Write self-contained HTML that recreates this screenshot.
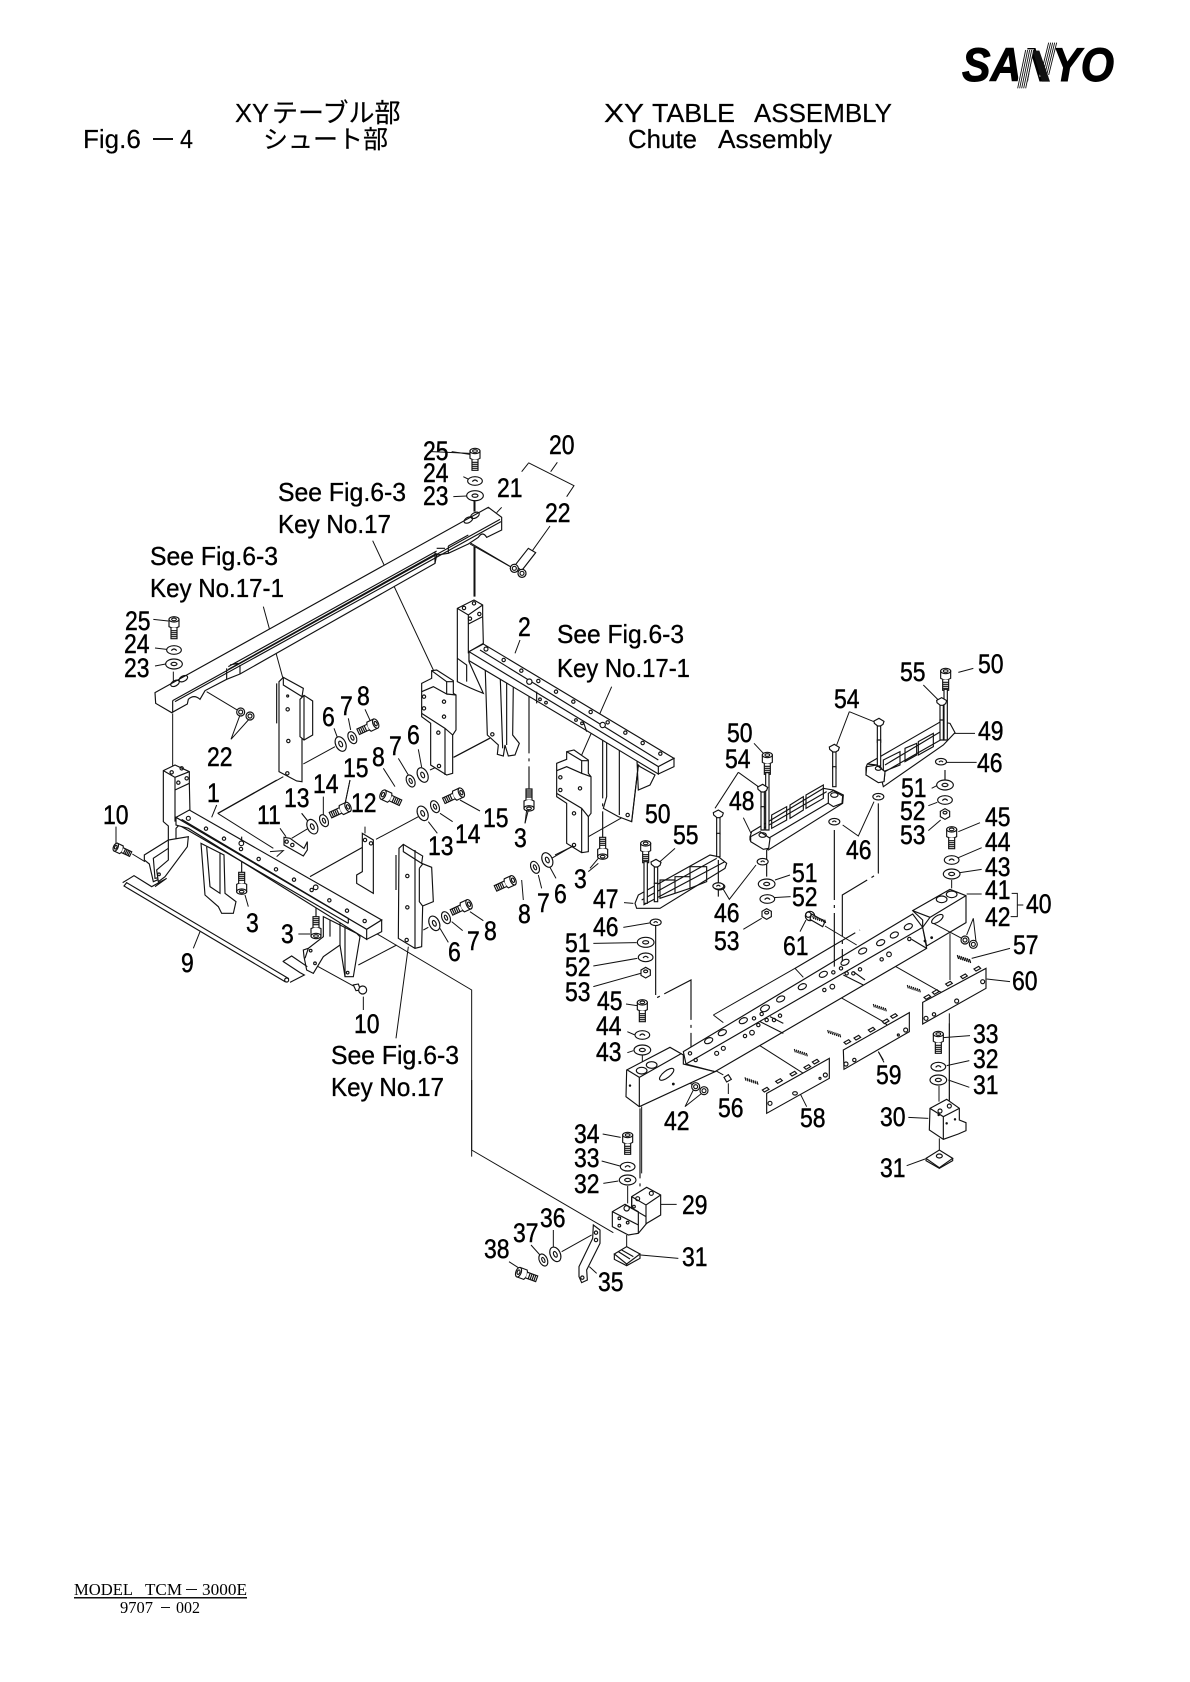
<!DOCTYPE html>
<html><head><meta charset="utf-8"><title>XY Table Assembly</title>
<style>
html,body{margin:0;padding:0;background:#fff}
svg{display:block}
path,line,polyline,polygon,ellipse,circle{vector-effect:non-scaling-stroke;stroke:#111;stroke-width:1.15;fill:none}
.w{fill:#fff}
.l{stroke-width:1}
.d{stroke-dasharray:70 5 3 5}
.k{fill:#111}
text{fill:#000}
.n{font:27px "Liberation Sans",sans-serif;stroke:#000;stroke-width:.45;transform-box:fill-box;transform-origin:left center;transform:scaleX(.85)}
.k1{font:26px "Liberation Sans",sans-serif;stroke:#000;stroke-width:.35}
.t{font:26px "Liberation Sans","Noto Sans CJK JP",sans-serif;stroke:#000;stroke-width:.2}
.m{font:17px "Liberation Serif",serif}
</style></head><body>
<svg xmlns="http://www.w3.org/2000/svg" width="1190" height="1682" viewBox="0 0 1190 1682">
<defs>
<g id="bv"><path class="w" d="M-15 -10V12Q0 22 15 12V-10Z"/><ellipse class="w" cy="-10" rx="15" ry="8"/><ellipse cy="-10" rx="7" ry="4"/><path class="w" d="M-9 16V48H9V16"/><path d="M-9 24H9M-9 30H9M-9 36H9M-9 42H9"/></g>
<g id="w"><ellipse class="w" rx="25" ry="15"/><ellipse rx="9" ry="5"/></g>
<g id="s"><ellipse class="w" rx="22" ry="13"/><path d="M-8 2Q0 -8 8 2"/></g>
<g id="t"><g transform="rotate(-25)"><ellipse class="w" rx="15" ry="23"/><ellipse rx="5" ry="9"/></g></g>
<g id="u"><g transform="rotate(-25)"><ellipse class="w" rx="12" ry="19"/><ellipse rx="4" ry="8"/></g></g>
<g id="c"><path class="w" d="M-5 10V60H5V10"/><path class="w" d="M-15 -4L0 -12L15 -3L12 6L4 11H-4L-14 3Z"/></g>
<g id="h"><path class="w" d="M-14 -8L0 -16L14 -8V8L0 16L-14 8Z"/><ellipse cy="-4" rx="6" ry="4"/></g>
<g id="sp"><path d="M0 -5L3 5M6 -3L9 7M12 -1L15 9M18 1L21 11M24 3L27 13M30 5L33 15M36 7L39 17"/></g>
<g id="nu"><circle class="w" r="12"/><circle r="6"/></g>
<g id="pin"><path class="w" d="M-8 2L6 -6L12 0L-2 8Z"/></g>
</defs>

<!-- SANYO logo -->
<text x="962" y="81" style="font:italic 700 47px 'Liberation Sans',sans-serif;stroke:#000;stroke-width:1" textLength="152" lengthAdjust="spacingAndGlyphs">SANYO</text>
<g transform="translate(950,30) scale(.33333)">
<path style="fill:#fff;stroke:none" d="M222 58H252L228 178H198ZM292 36H322L296 140H268Z"/>
<path style="fill:#111;stroke:none" d="M248 62H268L300 155H276Z"/>
<path style="stroke-width:.9" d="M227 60L203 175M233 60L209 175M239 60L215 175M245 60L221 175M251 60L227 175M296 38L272 135M302 38L278 135M308 38L284 135M314 38L290 135M320 38L296 135"/>
</g>

<!-- Upper-left rail / blocks: zoom coordinates origin (100,420) -->
<g transform="translate(100,420) scale(.33333)">
<path class="l" d="M1055 95L1110 103M1090 170L1110 180M1060 230L1100 228M1125 240V275M1125 380V530M1110 372L1240 445M160 598L205 603M165 684L200 688M165 738L197 732M220 755V790M218 880V1040M320 815L415 872M393 958L422 880M393 958L445 900M1205 262L1190 278M490 560L548 772M818 362L1000 750M610 1032L705 980M355 1180L550 1070M702 925L712 952M745 895L752 930M795 868L812 905M990 1050L1012 1040M1062 1012L1170 955M955 988L965 1042M895 1015L925 1065M850 1045L885 1100M605 1180L625 1205M670 1130V1170M750 1080L735 1152"/>
<path class="w" d="M165 818L1165 262L1205 292V330L1160 352Q1148 332 1135 352L1105 372L1045 400L1010 405L1005 430L420 762L380 778L315 812L300 838Q282 822 265 838L262 852L215 878L167 850Z"/>
<path d="M218 842L1200 298M225 845L1203 305M218 842V878M385 740L1010 393M385 748L1010 400M380 778V745M420 762V735M1005 430V395M1045 400V378M390 735L415 730M1010 385L1035 385M1045 378L1105 345"/>
<ellipse cx="1105" cy="300" rx="14" ry="8" transform="rotate(-28 1105 300)"/><ellipse cx="1125" cy="286" rx="14" ry="8" transform="rotate(-28 1125 286)"/><ellipse cx="225" cy="790" rx="14" ry="8" transform="rotate(-28 225 790)"/><ellipse cx="250" cy="776" rx="14" ry="8" transform="rotate(-28 250 776)"/>
<use href="#bv" x="1125" y="103"/><use href="#s" x="1125" y="183"/><use href="#w" x="1125" y="227"/>
<use href="#bv" x="222" y="608"/><use href="#s" x="222" y="690"/><use href="#w" x="222" y="732"/>
<use href="#nu" x="1243" y="445"/><use href="#nu" x="1266" y="460"/><use href="#nu" x="422" y="876"/><use href="#nu" x="450" y="888"/>
<!-- 17-1 block -->
<path class="w" d="M537 785L550 772L610 805L606 830V1085L590 1083L537 1055Z"/>
<path d="M550 772V795L606 830M530 790V910" />
<path class="w" d="M600 838L612 826L638 843V945L612 960L600 950Z"/><path d="M612 826V960"/>
<circle cx="563" cy="868" r="5"/><circle cx="565" cy="963" r="5"/><circle cx="562" cy="1060" r="5"/><circle cx="563" cy="828" r="3"/>
<!-- 17 block -->
<path class="w" d="M965 790L995 775V752L1010 750L1060 782V820L1068 825V930L1058 945V1060L1040 1065L992 1035V910L965 890Z"/>
<path d="M995 752L1040 785H1060M1040 785V822L1000 800L965 815M1040 822L1068 825M965 880L1035 925L1058 945M1035 925V1065"/>
<circle cx="972" cy="830" r="5"/><circle cx="1032" cy="845" r="5"/><circle cx="972" cy="865" r="5"/><circle cx="1032" cy="890" r="5"/><circle cx="1015" cy="938" r="5"/><circle cx="1017" cy="1038" r="5"/>
<use href="#t" x="722" y="972"/><use href="#u" x="757" y="953"/><use href="#bv" transform="translate(818 915) rotate(65)"/>
<use href="#t" x="968" y="1065"/><use href="#u" x="932" y="1083"/><use href="#bv" transform="translate(858 1128) rotate(-65)"/>
</g>

<!-- Bracket 2, zoom origin (450,420) -->
<g transform="translate(450,420) scale(.33333)">
<path class="l" d="M-55 95L60 100M235 130L215 155M322 127L302 155M235 128L372 197L350 230M300 318L245 395M72 240V275M72 380V530M60 368L190 445M210 660L195 700M485 800L395 1005M415 1250L530 1185M118 955L10 1012M305 1315L365 1280" />
<path class="d" d="M237 790V1105M458 925V1255"/>
<path class="w" d="M22 565L72 540L98 555V590L100 670L57 695V725L100 820Q60 805 22 785Z"/>
<path d="M22 565L55 585L98 555M55 585V612L98 590M55 612V700"/><circle cx="42" cy="564" r="5"/><circle cx="72" cy="550" r="5"/><circle cx="60" cy="596" r="5"/><circle cx="88" cy="582" r="5"/>
<path d="M22 715L50 735V785"/>
<path class="w" d="M105 725L112 945L145 975L142 1003L160 1008L165 975L175 1008L195 1005L208 970L188 945L190 790L170 770Z"/><path d="M150 750L158 985M170 770V975"/><circle cx="127" cy="943" r="5"/>
<path class="w" d="M470 905V1130L460 1165L505 1190L545 1205L565 1035L570 1040L615 1065L600 1095L565 1110L560 1000L505 960Z"/><path d="M508 965V1185M565 1035L545 1205"/><circle cx="535" cy="990" r="5"/><circle cx="533" cy="1185" r="5"/>
<path class="w" d="M57 695L100 672L672 1015L625 1040L57 700Z"/>
<path class="w" d="M57 695V722L415 935L625 1062V1040ZM625 1040V1062L672 1040V1015Z"/>
<path d="M90 690L625 1020M260 815V850M400 905L410 935"/>
<circle cx="108" cy="687" r="6"/><circle cx="161" cy="720" r="5"/><circle cx="214" cy="752" r="5"/><circle cx="265" cy="783" r="5"/><circle cx="318" cy="815" r="5"/><circle cx="370" cy="845" r="5"/><circle cx="422" cy="876" r="5"/><circle cx="473" cy="907" r="5"/><circle cx="526" cy="938" r="5"/><circle cx="578" cy="969" r="5"/><circle cx="631" cy="1001" r="5"/><circle cx="238" cy="785" r="8" class="w"/><circle cx="458" cy="915" r="8" class="w"/><circle cx="270" cy="838" r="4"/><circle cx="288" cy="848" r="4"/><circle cx="378" cy="900" r="4"/><circle cx="396" cy="910" r="4"/>
<!-- 17-1 right block -->
<path class="w" d="M320 1030L350 1018V995L372 990L415 1020V1060L423 1070V1180L415 1190V1295L395 1298L350 1270V1150L320 1130Z"/>
<path d="M350 995L395 1022H415M395 1022V1060L350 1040L320 1052M395 1060L423 1070M320 1120L395 1165L415 1190M395 1165V1298"/>
<circle cx="331" cy="1072" r="5"/><circle cx="390" cy="1105" r="5"/><circle cx="331" cy="1110" r="5"/><circle cx="372" cy="1180" r="5"/><circle cx="372" cy="1275" r="5"/>
<use href="#bv" transform="translate(237 1155) rotate(180)"/><use href="#bv" transform="translate(458 1300) rotate(180)"/>
<path class="l" d="M235 1170L225 1210M445 1315L420 1345"/>
<!-- 22 sleeve -->
<path class="w" d="M235 385L257 398L215 452L195 436Z"/>
<use href="#nu" x="193" y="445"/><use href="#nu" x="216" y="460"/>
</g>

<!-- Lower-left assembly, zoom origin (100,780) -->
<g transform="translate(100,780) scale(.33333)">
<path class="l" d="M48 140V190M97 222L135 245M640 552L760 618M790 650V690M435 345L445 380M595 462L630 462M300 455L280 505M350 75L335 112M820 455L1115 630V1130M353 100L530 0M353 100L520 205M510 215L550 212L530 230M575 175L625 145M540 145L558 170M605 100L625 125M670 90V112M750 0L735 72M795 140V160M828 178L955 110M985 125L1012 160M1020 100L1058 125M1080 60L1140 93M775 555L890 495M925 500L888 775M970 450L985 442M1020 445L1045 487M1055 425L1088 452M1110 395L1150 422M1265 300L1270 360M1315 285L1325 325M1350 262L1368 295M1365 225L1420 198M1280 90L1275 130M1465 275L1495 250"/>
<path class="d" d="M425 170V285M648 325V425M630 290L800 195M888 225V330"/>
<!-- column -->
<path class="w" d="M190 -28L225 -45L268 -25V10L270 100L228 145V175Q228 195 205 205L160 235L165 295L195 290L160 305L148 252L133 240V225L205 180V138L190 125Z"/>
<path d="M190 -28L225 -8L268 -25M225 -8V30L268 10M225 30V125"/>
<circle cx="215" cy="-23" r="5"/><circle cx="245" cy="-35" r="5"/><circle cx="235" cy="8" r="5"/><circle cx="260" cy="-5" r="5"/>
<path class="w" d="M265 170L262 200L195 290L175 305L170 270L205 240V180Z"/>
<circle cx="177" cy="283" r="4"/>
<!-- legs -->
<path class="w" d="M303 190L315 345L355 380L365 400H400L408 365L375 340L372 225Z"/><path d="M320 200L330 320L360 340V220"/>
<path class="w" d="M670 410V470L625 505L610 510L612 530L620 570L640 580L670 530L720 495L735 590H760L780 470L770 460Z"/>
<path d="M625 505L615 535M720 420V495M735 440V590M690 420V470"/><circle cx="632" cy="512" r="4"/><circle cx="645" cy="550" r="4"/><circle cx="743" cy="578" r="4"/>
<!-- rail 1 -->
<path class="w" d="M228 112L268 90L845 420L800 448Z"/>
<path class="w" d="M228 112V135L265 145L800 478V448ZM800 448V478L845 455V420Z"/>
<path d="M245 118L745 415M245 140L745 430M745 415V430"/>
<g><circle cx="265" cy="115" r="6"/><circle cx="318" cy="146" r="5"/><circle cx="372" cy="176" r="5"/><circle cx="423" cy="207" r="5"/><circle cx="476" cy="237" r="5"/><circle cx="528" cy="268" r="5"/><circle cx="582" cy="299" r="5"/><circle cx="635" cy="330" r="5"/><circle cx="688" cy="361" r="5"/><circle cx="741" cy="392" r="5"/><circle cx="794" cy="423" r="5"/><circle cx="424" cy="190" r="7" class="w"/><circle cx="647" cy="322" r="7" class="w"/></g>
<use href="#bv" transform="translate(425 325) rotate(180)"/><use href="#bv" transform="translate(648 458) rotate(180)"/>
<!-- strip 9 -->
<path d="M68 308L102 287L155 320L200 295L165 320M548 545L575 528L622 560M550 545L600 578L613 585L570 607"/>
<path class="w" d="M72 318L80 308L565 595L555 605Z"/><circle class="w" cx="560" cy="600" r="6"/>
<use href="#bv" transform="translate(55 205) rotate(-65) scale(.85)"/>
<path class="w" d="M760 615L775 612L782 630L768 632Z"/><circle class="w" cx="788" cy="630" r="12"/>
<!-- small parts -->
<path class="w" d="M552 172L570 175L612 205L622 185V210L610 228L552 195Z"/><circle cx="560" cy="185" r="5"/><circle cx="577" cy="195" r="5"/>
<use href="#t" x="637" y="140"/><use href="#u" x="672" y="122"/><use href="#bv" transform="translate(735 85) rotate(65)"/>
<path class="w" d="M787 160L820 180V340L770 310V285L787 275Z"/><circle cx="795" cy="180" r="5"/><circle cx="813" cy="190" r="5"/>
<path class="w" d="M897 205L910 193L968 228L965 250L995 262L1000 365L968 378L965 500L945 505L895 475Z"/>
<path d="M910 193V215L965 250M958 265L968 252M958 265V365L968 378M945 210V505"/><circle cx="922" cy="288" r="5"/><circle cx="922" cy="382" r="5"/><circle cx="920" cy="480" r="5"/>
<use href="#t" x="968" y="100"/><use href="#u" x="1005" y="80"/><use href="#bv" transform="translate(1075 42) rotate(65)"/>
<use href="#t" x="1003" y="430"/><use href="#u" x="1038" y="413"/><use href="#bv" transform="translate(1098 377) rotate(65)"/>
<use href="#bv" transform="translate(1230 305) rotate(65)"/><use href="#u" x="1305" y="262"/><use href="#t" x="1342" y="240"/>
</g>

<!-- Long leader + lower group, zoom origin (450,1080) -->
<g transform="translate(450,1080) scale(.33333)">
<path class="l" d="M65 0V210L490 458M458 162L512 172M455 243L510 258M460 310L505 303M533 318V370M632 373H680M572 525L685 535M530 465V500M310 450V500M243 495L270 525M177 545L208 565M335 515L425 465M418 560L440 580"/>
<path class="d" d="M570 85V340"/>
<use href="#bv" x="533" y="175"/><use href="#s" x="533" y="260"/><use href="#w" x="533" y="300"/>
<path class="w" d="M545 350L590 322L632 345V405L590 430L565 460L535 465L487 440V395L525 373L545 385Z"/>
<path d="M545 350L588 375L632 345M588 375V432M545 350V385L588 410M487 395L565 435V460M525 373L565 395V435"/>
<circle cx="563" cy="356" r="6"/><circle cx="604" cy="340" r="6"/><circle cx="530" cy="385" r="8"/><circle cx="552" cy="380" r="4"/><circle cx="508" cy="415" r="4"/><circle cx="508" cy="437" r="4"/><circle cx="533" cy="428" r="4"/>
<path class="w" d="M493 522L530 500L570 522L530 552Z"/><path d="M493 522V538L530 557L570 535V522M530 552V557M505 515L540 537M515 510L550 530"/>
<path class="w" d="M430 435L450 450V490L410 570L412 600L395 608L387 590V560L428 475Z"/><circle cx="438" cy="458" r="5"/><circle cx="438" cy="480" r="5"/><circle cx="397" cy="593" r="5"/>
<use href="#t" x="316" y="523"/><use href="#u" x="280" y="540"/><use href="#bv" transform="translate(215 580) rotate(-70)"/>
</g>

<!-- Right main beam, zoom origin (550,840) -->
<g transform="translate(550,840) scale(.33333)">
<path class="l" d="M222 188L250 190M220 262L305 248M130 310L260 308M130 378L262 355M130 440L272 400M228 492L262 497M232 575L255 585M232 638L250 632M277 645V670M440 660L520 705M535 730V762M405 800L430 750M405 800L455 760M355 695L430 735M750 760L770 800M985 635L1000 660M600 598L760 700M850 460L1000 545M1020 370L1170 455M1200 280V420M1198 550V780M275 800V1000M490 525L735 385M490 525L520 548M735 385L760 412"/>
<path class="d" d="M317 255V475L423 420V630M760 700L808 715M1000 545L1045 585M1170 455L1220 485M735 385L930 270"/>
<!-- beam -->
<path class="w" d="M400 635L1088 222L1118 262L1130 325L495 695L408 672Z"/>
<path d="M408 672L1118 262M1085 298L1130 325M630 545L700 580M660 530L700 550M880 405L940 435M910 395L945 420"/>
<g><ellipse cx="476" cy="602" rx="13" ry="8" transform="rotate(-25 476 602)"/><ellipse cx="517" cy="578" rx="13" ry="8" transform="rotate(-25 517 578)"/><ellipse cx="580" cy="542" rx="13" ry="8" transform="rotate(-25 580 542)"/><ellipse cx="645" cy="505" rx="14" ry="9" transform="rotate(-25 645 505)"/><ellipse cx="692" cy="477" rx="13" ry="8" transform="rotate(-25 692 477)"/><ellipse cx="757" cy="440" rx="13" ry="8" transform="rotate(-25 757 440)"/><ellipse cx="820" cy="403" rx="13" ry="8" transform="rotate(-25 820 403)"/><ellipse cx="885" cy="367" rx="13" ry="8" transform="rotate(-25 885 367)"/><ellipse cx="938" cy="333" rx="13" ry="8" transform="rotate(-25 938 333)"/><ellipse cx="992" cy="308" rx="13" ry="8" transform="rotate(-25 992 308)"/><ellipse cx="1033" cy="285" rx="13" ry="8" transform="rotate(-25 1033 285)"/><ellipse cx="1075" cy="260" rx="13" ry="8" transform="rotate(-25 1075 260)"/></g>
<circle cx="420" cy="640" r="5"/><circle cx="437" cy="660" r="5"/><circle cx="500" cy="640" r="6"/><circle cx="520" cy="625" r="6"/><circle cx="585" cy="588" r="5"/><circle cx="606" cy="578" r="7"/><circle cx="612" cy="535" r="5"/><circle cx="635" cy="522" r="5"/><circle cx="625" cy="555" r="5"/><circle cx="650" cy="540" r="5"/><circle cx="672" cy="540" r="5"/><circle cx="690" cy="527" r="5"/><circle cx="823" cy="450" r="5"/><circle cx="847" cy="440" r="7"/><circle cx="850" cy="397" r="5"/><circle cx="873" cy="385" r="5"/><circle cx="890" cy="400" r="5"/><circle cx="910" cy="400" r="5"/><circle cx="930" cy="388" r="5"/><circle cx="995" cy="358" r="5"/><circle cx="1017" cy="343" r="7"/><circle cx="1078" cy="297" r="5"/>
<!-- right end block -->
<path class="w" d="M1088 212L1200 148L1248 167V248L1130 318L1118 262V240Z"/>
<path d="M1088 212L1140 232L1248 167M1140 232L1118 262"/><ellipse cx="1175" cy="178" rx="16" ry="10"/><ellipse cx="1205" cy="163" rx="16" ry="10"/><ellipse cx="1162" cy="237" rx="20" ry="9" transform="rotate(-35 1162 237)"/>
<circle cx="1125" cy="303" r="2.5" class="k"/><circle cx="1145" cy="293" r="2.5" class="k"/>
<!-- left end block -->
<path class="w" d="M230 690L360 622L400 645V672L495 695L268 800L228 770Z"/>
<path d="M232 690L268 712V800M268 712L395 640"/><ellipse cx="275" cy="692" rx="16" ry="10"/><ellipse cx="305" cy="675" rx="16" ry="10"/><ellipse cx="350" cy="703" rx="26" ry="10" transform="rotate(-38 350 703)"/>
<circle cx="370" cy="732" r="2.5" class="k"/><circle cx="240" cy="737" r="2" class="k"/>
<!-- 47 card -->
<path class="w" d="M255 190L265 165L480 45L505 50L530 70L525 85L330 205L320 205L260 205Z"/>
<path d="M275 180L500 55M280 195L525 65M330 120H375V160L330 175ZM375 110H420V145L375 160ZM420 80H470V125L420 145Z"/>
<use href="#bv" x="287" y="20"/><path class="w" d="M282 65H292V190H282Z"/>
<use href="#c" x="318" y="70"/><path class="w" d="M313 130H323V185H313Z"/>
<path class="l" d="M375 25L330 65"/>
<use href="#s" transform="translate(317 247) scale(.75)"/><use href="#w" x="287" y="307"/><use href="#s" x="287" y="352"/><use href="#h" x="287" y="398"/>
<use href="#s" transform="translate(508 140) scale(.75)"/>
<use href="#bv" x="277" y="497"/><use href="#s" x="277" y="585"/><use href="#w" x="277" y="630"/>
<use href="#nu" x="437" y="740"/><use href="#nu" x="462" y="752"/>
<path class="w" d="M522 712L535 704L544 718L530 726Z"/>
<!-- plates -->
<use href="#sp" x="585" y="717"/><use href="#sp" x="733" y="632"/>
<use href="#pin" x="645" y="748"/><use href="#pin" x="685" y="722"/><use href="#pin" x="728" y="700"/><use href="#pin" x="770" y="680"/><use href="#pin" x="795" y="664"/>
<path class="w" d="M650 760L838 655V715L650 820Z"/><circle cx="660" cy="790" r="6"/><ellipse cx="735" cy="760" rx="7" ry="5"/><circle cx="810" cy="715" r="3"/><circle cx="826" cy="705" r="6"/>
<use href="#sp" x="833" y="575"/><use href="#sp" x="970" y="497"/>
<use href="#pin" x="890" y="605"/><use href="#pin" x="920" y="592"/><use href="#pin" x="963" y="568"/><use href="#pin" x="1005" y="543"/><use href="#pin" x="1030" y="527"/>
<path class="w" d="M880 630L1078 518V575L882 688Z"/><circle cx="888" cy="672" r="6"/><circle cx="913" cy="660" r="5"/><circle cx="1045" cy="585" r="3"/><circle cx="1067" cy="570" r="6"/>
<use href="#sp" x="1072" y="440"/><use href="#sp" x="1222" y="350"/>
<use href="#pin" x="1130" y="470"/><use href="#pin" x="1155" y="455"/><use href="#pin" x="1195" y="430"/><use href="#pin" x="1240" y="408"/><use href="#pin" x="1280" y="385"/>
<path class="w" d="M1118 487L1308 385V445L1118 552Z"/><circle cx="1128" cy="535" r="6"/><circle cx="1152" cy="523" r="5"/><circle cx="1220" cy="483" r="6"/><circle cx="1298" cy="425" r="6"/>
</g>

<!-- Upper right cards, zoom origin (680,640) -->
<g transform="translate(680,640) scale(.33333)">
<path class="l" d="M835 97L880 85M820 280L885 280M890 367L800 367M755 445L770 437M745 497L772 487M745 572L782 540M900 548L835 575M905 623L835 653M905 688L840 698M815 720V745M860 762L905 762M995 760H1012V830H992M1012 795H1030M222 310L250 340M175 397L105 505M175 397L235 440M190 533L213 580M508 215L470 315M508 215L582 245M730 135L775 180M285 720L330 705M280 773L332 770M190 868L245 835M360 875L378 840M435 858L530 915M488 555L535 588L582 485M130 748L148 778L228 675M880 835L860 885M880 835L888 905M760 850L845 895M875 955L990 925M920 1017L990 1025"/>
<path class="d" d="M463 570V980M595 490V700L487 765V965M260 630V710M795 390V420M115 770V660"/>
<!-- 49 -->
<path class="w" d="M558 382L562 372L782 245L810 250L825 278L790 315L610 440L605 420L558 405Z"/>
<path d="M590 375L615 395L612 425M615 395L790 295M562 372L590 375M615 375L790 270M610 360L660 335V375L610 395ZM675 325L710 310V345L675 365ZM715 305L760 280V320L715 345Z"/>
<path class="w" d="M560 380L590 375L615 395L612 425L595 428L558 405Z"/><ellipse cx="595" cy="385" rx="9" ry="6"/>
<use href="#bv" x="797" y="103"/><path class="w" d="M792 148H802V300H792Z"/>
<use href="#c" x="785" y="185"/><path class="w" d="M780 240H790V300H780Z"/>
<use href="#c" x="597" y="247"/><path class="w" d="M592 300H602V378H592Z"/>
<use href="#c" x="463" y="325"/><path class="w" d="M458 380H468V440H458Z"/>
<use href="#s" transform="translate(783 365) scale(.75)"/><use href="#w" x="795" y="435"/><use href="#s" x="795" y="480"/><use href="#h" x="795" y="522"/>
<use href="#s" transform="translate(595 470) scale(.75)"/><use href="#s" transform="translate(463 545) scale(.75)"/>
<!-- 48 -->
<path class="w" d="M210 590L215 575L430 445L460 450L490 465L488 490L265 630L210 600Z"/>
<path d="M240 575L265 595M265 595L460 480M250 565L440 455M275 525L320 500V540L275 565ZM330 495L370 470V510L330 535ZM378 465L430 435V475L378 505Z"/>
<path class="w" d="M445 460L460 452L488 468L486 490L460 500L445 490Z"/><ellipse cx="463" cy="465" rx="11" ry="7"/>
<path class="w" d="M212 590L240 575L270 595L266 625L250 628L212 605Z"/><ellipse cx="248" cy="585" rx="11" ry="7"/>
<use href="#bv" x="262" y="355"/><path class="w" d="M257 398H267V570H257Z"/>
<use href="#c" x="248" y="445"/><path class="w" d="M243 500H253V570H243Z"/>
<use href="#c" x="115" y="522"/><path class="w" d="M110 580H120V650H110Z"/>
<use href="#s" transform="translate(248 665) scale(.75)"/><use href="#s" transform="translate(115 738) scale(.75)"/><use href="#w" x="260" y="732"/><use href="#s" x="262" y="777"/><use href="#h" x="260" y="822"/>
<circle class="w" cx="390" cy="828" r="14"/><circle cx="385" cy="824" r="8"/><path class="w" d="M395 822L435 845L428 860L390 838Z"/><use href="#sp" x="398" y="832"/>
<use href="#bv" x="815" y="578"/><use href="#s" x="815" y="660"/><use href="#w" x="815" y="702"/>
<use href="#nu" x="855" y="900"/><use href="#nu" x="880" y="913"/>
<use href="#sp" x="833" y="952"/>
</g>

<!-- 30 block, zoom origin (860,1000) -->
<g transform="translate(860,1000) scale(.33333)">
<path class="l" d="M250 113L330 107M260 197L328 182M265 240L328 262M237 258V305M268 40V310M145 352L205 355M140 497L195 477M238 415V450M55 155L72 187"/>
<path class="w" d="M210 325L260 298L298 325V360L318 368V392L295 402L250 418L208 390Z"/>
<path d="M210 325L250 350L298 325M250 350V418"/><circle cx="240" cy="333" r="6"/><circle cx="268" cy="318" r="6"/><circle cx="285" cy="358" r="2" class="k"/><circle cx="260" cy="370" r="2" class="k"/><circle cx="236" cy="345" r="2" class="k"/>
<path class="w" d="M198 475L238 450L278 475L238 503Z"/><path d="M198 475V482L238 505L278 482V475"/><ellipse cx="238" cy="468" rx="9" ry="6"/>
<use href="#bv" x="235" y="112"/><use href="#s" x="235" y="200"/><use href="#w" x="235" y="240"/>
</g>

<!-- Titles -->
<text x="235" y="122" class="t" textLength="34" lengthAdjust="spacingAndGlyphs">XY</text>
<text x="272" y="122" class="t">テーブル部</text>
<text x="83" y="148" class="t">Fig.6</text>
<rect x="153" y="138" width="20" height="2" fill="#111"/>
<text x="180" y="148" class="t" textLength="13" lengthAdjust="spacingAndGlyphs">4</text>
<text x="263" y="148" class="t" style="font-size:25px">シュート部</text>
<text x="604" y="122" class="t" textLength="40" lengthAdjust="spacingAndGlyphs">XY</text>
<text x="652" y="122" class="t" textLength="83" lengthAdjust="spacingAndGlyphs">TABLE</text>
<text x="754" y="122" class="t" textLength="138" lengthAdjust="spacingAndGlyphs">ASSEMBLY</text>
<text x="628" y="148" class="t" textLength="69" lengthAdjust="spacingAndGlyphs">Chute</text>
<text x="718" y="148" class="t" textLength="114" lengthAdjust="spacingAndGlyphs">Assembly</text>
<text x="74" y="1595" class="m" textLength="59" lengthAdjust="spacingAndGlyphs">MODEL</text>
<text x="145" y="1595" class="m" textLength="37" lengthAdjust="spacingAndGlyphs">TCM</text>
<rect x="186" y="1589" width="11" height="1" fill="#111"/>
<text x="202" y="1595" class="m" textLength="45" lengthAdjust="spacingAndGlyphs">3000E</text>
<rect x="74" y="1597" width="173" height="1.5" fill="#111"/>
<text x="120" y="1613" class="m" textLength="33" lengthAdjust="spacingAndGlyphs">9707</text>
<rect x="161" y="1607" width="9" height="1" fill="#111"/>
<text x="176" y="1613" class="m" textLength="24" lengthAdjust="spacingAndGlyphs">002</text>

<!-- Notes -->
<text x="278" y="501" class="k1" textLength="128" lengthAdjust="spacingAndGlyphs">See Fig.6-3</text>
<text x="278" y="533" class="k1" textLength="113" lengthAdjust="spacingAndGlyphs">Key No.17</text>
<text x="150" y="565" class="k1" textLength="128" lengthAdjust="spacingAndGlyphs">See Fig.6-3</text>
<text x="150" y="597" class="k1" textLength="134" lengthAdjust="spacingAndGlyphs">Key No.17-1</text>
<text x="557" y="643" class="k1" textLength="127" lengthAdjust="spacingAndGlyphs">See Fig.6-3</text>
<text x="557" y="677" class="k1" textLength="133" lengthAdjust="spacingAndGlyphs">Key No.17-1</text>
<text x="331" y="1064" class="k1" textLength="128" lengthAdjust="spacingAndGlyphs">See Fig.6-3</text>
<text x="331" y="1096" class="k1" textLength="113" lengthAdjust="spacingAndGlyphs">Key No.17</text>

<!-- Numbers -->
<g>
<text class="n" x="423" y="460">25</text><text class="n" x="423" y="482">24</text><text class="n" x="423" y="505">23</text><text class="n" x="497" y="497">21</text>
<text class="n" x="125" y="630">25</text><text class="n" x="124" y="653">24</text><text class="n" x="124" y="677">23</text>
<text class="n" x="322" y="726">6</text><text class="n" x="340" y="715">7</text><text class="n" x="357" y="705">8</text><text class="n" x="207" y="766">22</text><text class="n" x="518" y="636">2</text>
<text class="n" x="372" y="766">8</text><text class="n" x="389" y="755">7</text><text class="n" x="407" y="744">6</text>
<text class="n" x="343" y="777">15</text><text class="n" x="313" y="793">14</text><text class="n" x="284" y="807">13</text><text class="n" x="207" y="802">1</text><text class="n" x="257" y="824">11</text><text class="n" x="351" y="812">12</text><text class="n" x="103" y="824">10</text>
<text class="n" x="483" y="827">15</text><text class="n" x="455" y="843">14</text><text class="n" x="428" y="855">13</text><text class="n" x="514" y="847">3</text>
<text class="n" x="246" y="932">3</text><text class="n" x="281" y="943">3</text><text class="n" x="181" y="972">9</text><text class="n" x="354" y="1033">10</text>
<text class="n" x="448" y="961">6</text><text class="n" x="467" y="950">7</text><text class="n" x="484" y="940">8</text><text class="n" x="518" y="923">8</text><text class="n" x="537" y="912">7</text><text class="n" x="554" y="903">6</text><text class="n" x="574" y="888">3</text>
<text class="n" x="549" y="454">20</text><text class="n" x="545" y="522">22</text>
<text class="n" x="727" y="742">50</text><text class="n" x="725" y="768">54</text><text class="n" x="729" y="810">48</text><text class="n" x="645" y="823">50</text><text class="n" x="673" y="844">55</text>
<text class="n" x="978" y="673">50</text><text class="n" x="900" y="681">55</text><text class="n" x="834" y="708">54</text><text class="n" x="978" y="740">49</text><text class="n" x="977" y="772">46</text>
<text class="n" x="901" y="797">51</text><text class="n" x="900" y="820">52</text><text class="n" x="900" y="844">53</text>
<text class="n" x="985" y="826">45</text><text class="n" x="985" y="851">44</text><text class="n" x="985" y="876">43</text><text class="n" x="985" y="899">41</text><text class="n" x="985" y="926">42</text><text class="n" x="1026" y="913">40</text>
<text class="n" x="846" y="859">46</text><text class="n" x="792" y="882">51</text><text class="n" x="792" y="906">52</text><text class="n" x="714" y="922">46</text><text class="n" x="714" y="950">53</text><text class="n" x="783" y="955">61</text>
<text class="n" x="1013" y="954">57</text><text class="n" x="1012" y="990">60</text>
<text class="n" x="973" y="1043">33</text><text class="n" x="973" y="1068">32</text><text class="n" x="973" y="1094">31</text><text class="n" x="880" y="1126">30</text><text class="n" x="880" y="1177">31</text><text class="n" x="876" y="1084">59</text>
<text class="n" x="593" y="908">47</text><text class="n" x="593" y="936">46</text><text class="n" x="565" y="952">51</text><text class="n" x="565" y="976">52</text><text class="n" x="565" y="1001">53</text>
<text class="n" x="597" y="1010">45</text><text class="n" x="596" y="1035">44</text><text class="n" x="596" y="1061">43</text>
<text class="n" x="664" y="1130">42</text><text class="n" x="718" y="1117">56</text><text class="n" x="800" y="1127">58</text>
<text class="n" x="574" y="1143">34</text><text class="n" x="574" y="1167">33</text><text class="n" x="574" y="1193">32</text><text class="n" x="682" y="1214">29</text><text class="n" x="540" y="1227">36</text><text class="n" x="513" y="1242">37</text><text class="n" x="484" y="1258">38</text><text class="n" x="598" y="1291">35</text><text class="n" x="682" y="1266">31</text>
</g>
</svg>
</body></html>
